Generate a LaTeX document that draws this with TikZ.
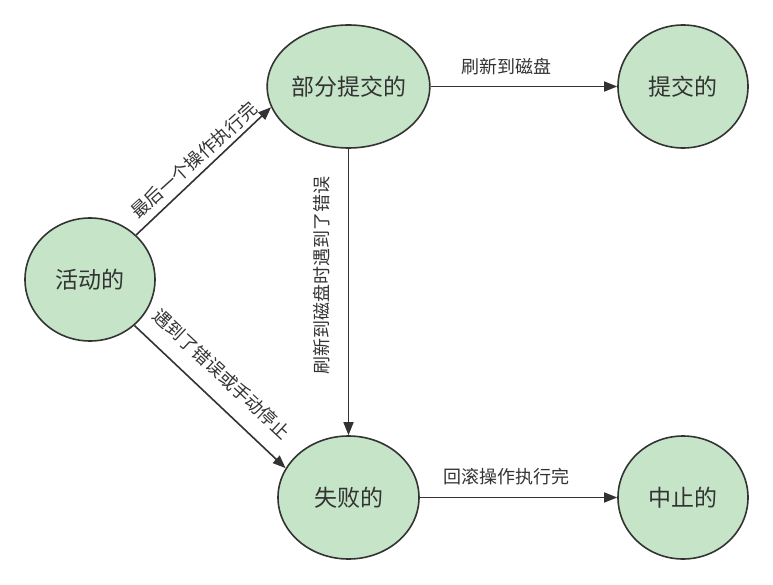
\documentclass[tikz,border=0pt]{standalone}
\usepackage{fontspec}
\setmainfont{Noto Sans CJK SC}
\usetikzlibrary{shapes.geometric,arrows.meta}

\definecolor{statefill}{HTML}{C6E5C8}
\definecolor{inkline}{HTML}{333333}
\definecolor{inktext}{HTML}{333333}

\tikzset{
  state/.style={ellipse, draw=inkline, fill=statefill, line width=1.6pt,
    inner sep=0pt, minimum height=123pt, text=inktext,
    font=\fontsize{23}{26}\selectfont},
  widestate/.style={state, minimum width=141pt},
  narrowstate/.style={state, minimum width=130pt},
  flow/.style={draw=inkline, line width=1.6pt,
    -{Triangle[length=13pt,width=10pt]}},
  edgetext/.style={text=inktext, inner sep=0pt,
    font=\fontsize{18}{20}\selectfont}
}

\begin{document}
\begin{tikzpicture}[x=1pt,y=-1pt]
  \useasboundingbox (0,0) rectangle (773,585);

  % states
  \node[narrowstate] (active)    at (90,279.5)   {活动的};
  \node[widestate]   (partial)   at (348.5,86.5) {部分提交的};
  \node[narrowstate] (committed) at (683,86.5)   {提交的};
  \node[widestate]   (failed)    at (348.5,497.5){失败的};
  \node[narrowstate] (aborted)   at (683,497.5)  {中止的};

  % transitions
  \draw[flow] (active.44)    -- (partial.195);
  \draw[flow] (active.-46)   -- (failed.155);
  \draw[flow] (partial.east) -- (committed.west);
  \draw[flow] (partial.south)-- (failed.north);
  \draw[flow] (failed.east)  -- (aborted.west);

  % transition labels
  \node[edgetext, rotate=42]  (lblfinish) at (194,160) {最后一个操作执行完};
  \node[edgetext, rotate=-43] (lblerror)  at (222,374) {遇到了错误或手动停止};
  \node[edgetext, rotate=90]  (lblflerr)  at (322,275) {刷新到磁盘时遇到了错误};
  \node[edgetext]             (lblflush)  at (506,67)  {刷新到磁盘};
  \node[edgetext]             (lblroll)   at (506,477) {回滚操作执行完};
\end{tikzpicture}
\end{document}
